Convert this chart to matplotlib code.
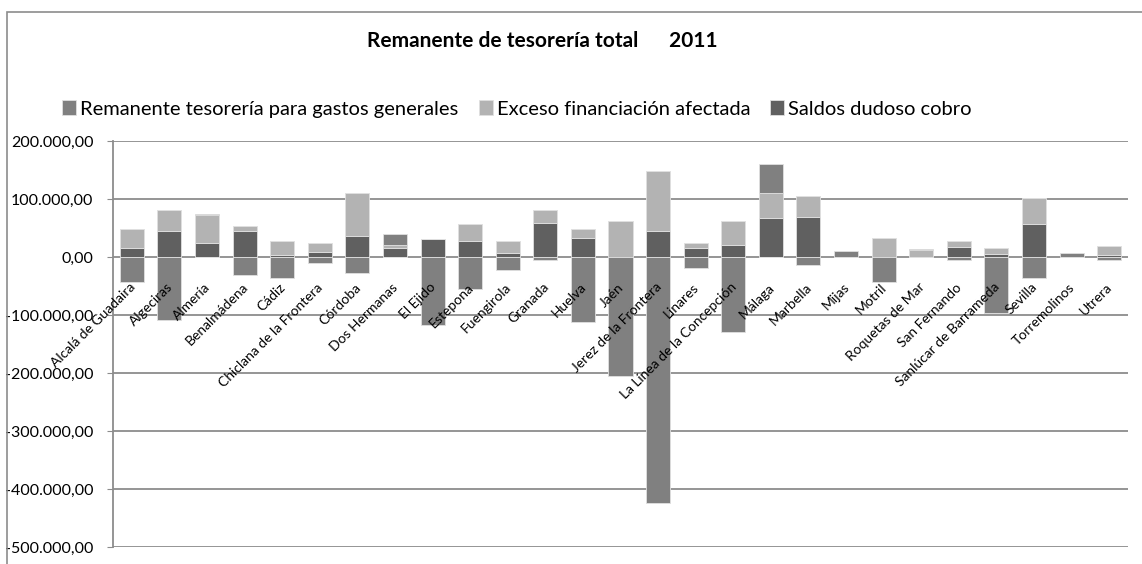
import numpy as np
import matplotlib
matplotlib.use("Agg")
import matplotlib.pyplot as plt
import matplotlib.transforms as mtransforms
from matplotlib.ticker import FuncFormatter, MultipleLocator

plt.rcParams['font.family'] = ['Lato', 'DejaVu Sans']

# Data
municipios = ["Alcalá de Guadaira", "Algeciras", "Almería", "Benalmádena", "Cádiz",
              "Chiclana de la Frontera", "Córdoba", "Dos Hermanas", "El Ejido", "Estepona",
              "Fuengirola", "Granada", "Huelva", "Jaén", "Jerez de la Frontera", "Linares",
              "La Línea de la Concepción", "Málaga", "Marbella", "Mijas", "Motril",
              "Roquetas de Mar", "San Fernando", "Sanlúcar de Barrameda", "Sevilla",
              "Torremolinos", "Utrera"]

remanente = [-43000, -108000, 1500, -31600, -36800, -11000, -28000, 19700, -116700, -54600,
             -22400, -4600, -111500, -205700, -423600, -19500, -128700, 50000, -13800, 10300,
             -43000, 1700, -4600, -96000, -36800, 6900, -4600]
exceso = [32000, 35000, 49000, 8600, 24000, 15500, 74000, 4000, 0, 30000,
          21000, 21500, 14400, 62600, 103000, 8600, 42000, 42000, 36000, 0,
          33300, 11500, 9800, 9500, 44000, 0, 15000]
saldos = [15500, 45400, 24000, 44800, 3400, 8600, 36000, 16000, 30500, 27000,
          6300, 59000, 33300, 0, 44800, 15500, 20700, 68000, 68400, 0,
          0, 0, 17800, 6000, 57000, 0, 3400]

series_names = ["Remanente tesorería para gastos generales", "Exceso financiación afectada",
                "Saldos dudoso cobro"]
colores = {"rem": "#808080", "exc": "#b3b3b3", "sal": "#606060"}

fig = plt.figure(figsize=(11.42, 5.64), dpi=100)
ax = fig.add_axes([113 / 1142, 1 - 547 / 564, 1015 / 1142, 406 / 564])

x = np.arange(len(municipios))
w = 0.64
pos_base = np.zeros(len(x))
neg_base = np.zeros(len(x))

# Excel stacks the last series at the bottom here
stack = [("sal", saldos), ("exc", exceso), ("rem", remanente)]
handles = {}
for key, vals in stack:
    vals = np.array(vals, dtype=float)
    pos = np.where(vals > 0, vals, 0)
    neg = np.where(vals < 0, vals, 0)
    h = ax.bar(x, pos, w, bottom=pos_base, color=colores[key], edgecolor="#e0e0e0",
               linewidth=0.6, zorder=3)
    ax.bar(x, neg, w, bottom=neg_base, color=colores[key], edgecolor="#e0e0e0",
           linewidth=0.6, zorder=3)
    pos_base += pos
    neg_base += neg
    handles[key] = h

ax.set_xlim(-0.5, len(x) - 0.5)
ax.set_ylim(-500000, 200000)
ax.yaxis.set_major_locator(MultipleLocator(100000))


def fmt(v, pos):
    s = f"{abs(v):,.2f}".replace(",", "X").replace(".", ",").replace("X", ".")
    return ("-" if v < 0 else "") + s


ax.yaxis.set_major_formatter(FuncFormatter(fmt))
ax.grid(axis="y", color="#8c8c8c", linewidth=1.3, zorder=1)
ax.set_axisbelow(True)
for s in ["top", "right", "bottom"]:
    ax.spines[s].set_visible(False)
ax.spines["left"].set_color("#8c8c8c")
ax.spines["left"].set_linewidth(1.3)
ax.tick_params(axis="y", length=4, color="#8c8c8c", labelsize=11.5, pad=10)
ax.tick_params(axis="x", bottom=False, labelbottom=False)

# category labels hang from the zero line
off = mtransforms.offset_copy(ax.transData, fig=fig, x=-3, y=-24, units="dots")
for xi, name in zip(x, municipios):
    ax.text(xi, 0, name, transform=off, rotation=45, rotation_mode="anchor",
            ha="right", va="top", fontsize=10, zorder=4)

fig.text(542 / 1142, 1 - 47 / 564, "Remanente de tesorería total      2011", ha="center",
         va="baseline", fontsize=15, fontweight="bold")

leg = fig.legend([handles["rem"], handles["exc"], handles["sal"]], series_names,
                 loc="center left", bbox_to_anchor=(62 / 1142, 1 - 109 / 564), ncol=3,
                 frameon=False, fontsize=14.5, handlelength=0.7, handleheight=0.7,
                 handletextpad=0.2, columnspacing=1.0, borderaxespad=0, borderpad=0)

# chart area border
border = plt.Rectangle((7 / 1142, -0.1), 1.2, 1 - 12 / 564 + 0.1, transform=fig.transFigure,
                       fill=False, edgecolor="#8c8c8c", linewidth=1.2)
fig.patches.append(border)

fig.savefig("out.png", dpi=100)
